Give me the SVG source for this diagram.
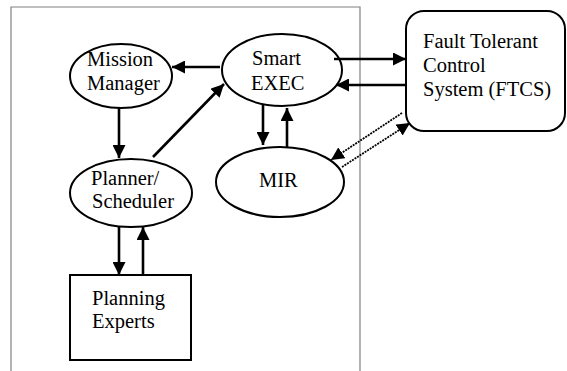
<svg xmlns="http://www.w3.org/2000/svg" width="567" height="371" viewBox="0 0 567 371">
<defs>
<style>
.n{fill:#fff;stroke:#000;stroke-width:2}
.t{font-family:"Liberation Serif","Times New Roman",serif;font-size:20.5px;fill:#000}
.c{stroke:#000;stroke-width:2.6;fill:none;marker-end:url(#ah)}
.d{stroke:#000;stroke-width:1.8;stroke-dasharray:2 1;fill:none;marker-end:url(#ah)}
</style>
<marker id="ah" viewBox="0 0 10 10" refX="10" refY="5" markerWidth="13" markerHeight="13" markerUnits="userSpaceOnUse" orient="auto">
<path d="M0,0 L10,5 L0,10 Z" fill="#000"/>
</marker>
</defs>
<rect width="567" height="371" fill="#fff"/>
<path d="M11,371 V7 H360 V371" fill="none" stroke="#808080" stroke-width="1.2"/>
<g id="mission-manager">
<ellipse class="n" cx="121" cy="76" rx="51" ry="32"/>
<text class="t" x="87" y="66">Mission</text>
<text class="t" x="87" y="90">Manager</text>
</g>
<g id="smart-exec">
<ellipse class="n" cx="282" cy="70" rx="60" ry="36"/>
<text class="t" x="252" y="65">Smart</text>
<text class="t" x="251" y="90">EXEC</text>
</g>
<g id="planner-scheduler">
<ellipse class="n" cx="131" cy="193" rx="61" ry="34"/>
<text class="t" x="91" y="185">Planner/</text>
<text class="t" x="92" y="208">Scheduler</text>
</g>
<g id="mir">
<ellipse class="n" cx="280" cy="182" rx="64" ry="35"/>
<text class="t" x="259" y="187">MIR</text>
</g>
<g id="planning-experts">
<rect class="n" x="70" y="275" width="121" height="85"/>
<text class="t" x="92" y="305">Planning</text>
<text class="t" x="92" y="328">Experts</text>
</g>
<g id="ftcs">
<rect class="n" x="406" y="11" width="159" height="120" rx="18"/>
<text class="t" x="423" y="48">Fault Tolerant</text>
<text class="t" x="423" y="72">Control</text>
<text class="t" x="423" y="96">System (FTCS)</text>
</g>
<g id="connectors">
<path class="c" d="M220,67 H172"/>
<path class="c" d="M119,108 V158"/>
<path class="c" d="M153,157 L224,84"/>
<path class="c" d="M263,105 V145"/>
<path class="c" d="M287,147 V108"/>
<path class="c" d="M334,59 H406"/>
<path class="c" d="M406,85 H336"/>
<path class="c" d="M119,227 V275"/>
<path class="c" d="M143,275 V227"/>
<path class="d" d="M402,113 L331,160"/>
<path class="d" d="M342,167 L410,123"/>
</g>
</svg>
